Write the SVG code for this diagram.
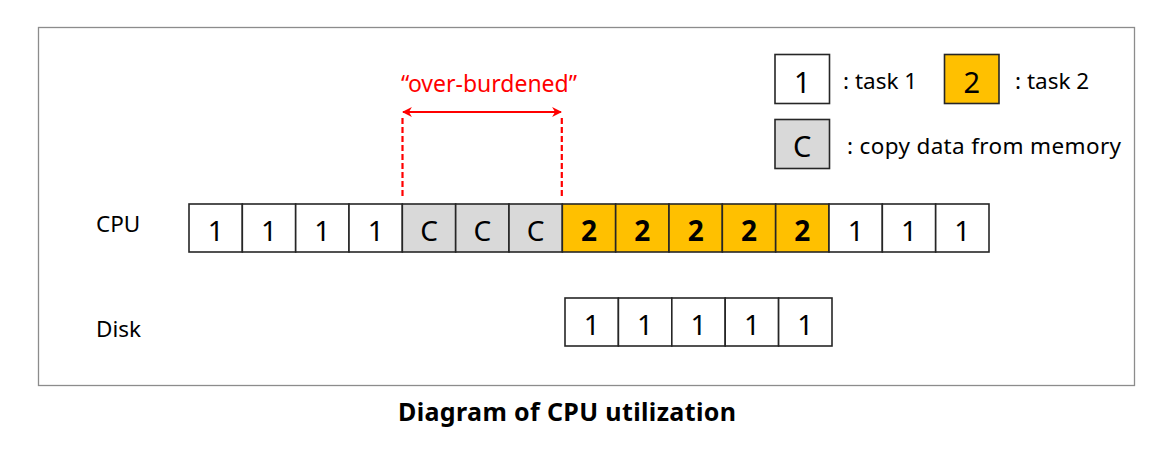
<svg xmlns="http://www.w3.org/2000/svg" width="1163" height="455" viewBox="0 0 1163 455">
<style>
.t{font-family:"Noto Sans","Liberation Sans",sans-serif;fill:#000}
.cell{stroke:#262626;stroke-width:1.6}
.w{fill:#fff}
.g{fill:#d9d9d9}
.o{fill:#ffc000}
.n{font-size:28px;text-anchor:middle}
.ln{font-size:29px;text-anchor:middle}
.b{font-weight:bold}
.lbl{font-size:22.5px}
.red{stroke:#ff0000;stroke-width:2.2;fill:none}
</style>
<defs>
<marker id="ah" viewBox="0 0 10 10" refX="9" refY="5" markerWidth="4.5" markerHeight="4.5" orient="auto-start-reverse" markerUnits="strokeWidth">
<path d="M0,0 L10,5 L0,10 L3,5 Z" fill="#ff0000"/>
</marker>
</defs>
<rect x="38.5" y="27.5" width="1096" height="358" fill="#fff" stroke="#8c8c8c" stroke-width="1.3"/>
<g id="labels">
<text class="t lbl" x="96" y="232">CPU</text>
<text class="t lbl" x="96" y="337">Disk</text>
</g>
<g id="cpu">
<rect class="cell w" x="189" y="204" width="53.33" height="48"/>
<rect class="cell w" x="242.33" y="204" width="53.33" height="48"/>
<rect class="cell w" x="295.67" y="204" width="53.33" height="48"/>
<rect class="cell w" x="349" y="204" width="53.33" height="48"/>
<rect class="cell g" x="402.33" y="204" width="53.33" height="48"/>
<rect class="cell g" x="455.67" y="204" width="53.33" height="48"/>
<rect class="cell g" x="509" y="204" width="53.33" height="48"/>
<rect class="cell o" x="562.33" y="204" width="53.33" height="48"/>
<rect class="cell o" x="615.67" y="204" width="53.33" height="48"/>
<rect class="cell o" x="669" y="204" width="53.33" height="48"/>
<rect class="cell o" x="722.33" y="204" width="53.33" height="48"/>
<rect class="cell o" x="775.67" y="204" width="53.33" height="48"/>
<rect class="cell w" x="829" y="204" width="53.33" height="48"/>
<rect class="cell w" x="882.33" y="204" width="53.33" height="48"/>
<rect class="cell w" x="935.67" y="204" width="53.33" height="48"/>
<text class="t n" x="215.67" y="241">1</text>
<text class="t n" x="269" y="241">1</text>
<text class="t n" x="322.33" y="241">1</text>
<text class="t n" x="375.67" y="241">1</text>
<text class="t n" x="429" y="241">C</text>
<text class="t n" x="482.33" y="241">C</text>
<text class="t n" x="535.67" y="241">C</text>
<text class="t n b" x="589" y="241">2</text>
<text class="t n b" x="642.33" y="241">2</text>
<text class="t n b" x="695.67" y="241">2</text>
<text class="t n b" x="749" y="241">2</text>
<text class="t n b" x="802.33" y="241">2</text>
<text class="t n" x="855.67" y="241">1</text>
<text class="t n" x="909" y="241">1</text>
<text class="t n" x="962.33" y="241">1</text>
</g>
<g id="disk">
<rect class="cell w" x="565" y="298" width="53.4" height="48"/>
<rect class="cell w" x="618.4" y="298" width="53.4" height="48"/>
<rect class="cell w" x="671.8" y="298" width="53.4" height="48"/>
<rect class="cell w" x="725.2" y="298" width="53.4" height="48"/>
<rect class="cell w" x="778.6" y="298" width="53.4" height="48"/>
<text class="t n" x="591.7" y="335">1</text>
<text class="t n" x="645.1" y="335">1</text>
<text class="t n" x="698.5" y="335">1</text>
<text class="t n" x="751.9" y="335">1</text>
<text class="t n" x="805.3" y="335">1</text>
</g>
<g id="connectors">
<line class="red" x1="402.5" y1="118" x2="402.5" y2="199" stroke-width="2.5" stroke-dasharray="6,3"/>
<line class="red" x1="561.8" y1="118" x2="561.8" y2="199" stroke-width="2.5" stroke-dasharray="6,3"/>
<line class="red" x1="403" y1="112" x2="561" y2="112" marker-start="url(#ah)" marker-end="url(#ah)"/>
</g>
<g id="annotation">
<text class="t" x="489" y="92" font-size="23" text-anchor="middle" style="fill:#ff0000">“over-burdened”</text>
</g>
<g id="legend">
<rect class="cell w" x="775" y="54.5" width="54.5" height="49"/>
<text class="t ln" x="802.2" y="92.5">1</text>
<text class="t lbl" x="843" y="89">: task 1</text>
<rect class="cell o" x="944.5" y="54.5" width="54.5" height="49"/>
<text class="t ln" x="971.7" y="92.5">2</text>
<text class="t lbl" x="1015" y="89">: task 2</text>
<rect class="cell g" x="775" y="119.5" width="54.5" height="49"/>
<text class="t ln" x="802.2" y="157">C</text>
<text class="t lbl" x="847" y="154" textLength="274" lengthAdjust="spacing">: copy data from memory</text>
</g>
<g id="title">
<text class="t b" x="567" y="421" font-size="25" text-anchor="middle" textLength="338" lengthAdjust="spacing">Diagram  of  CPU  utilization</text>
</g>
</svg>
